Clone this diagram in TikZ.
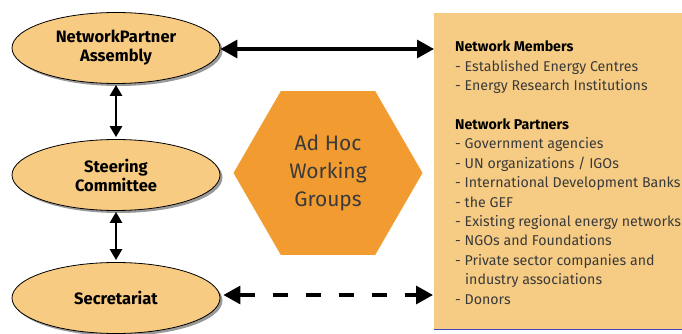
\documentclass[tikz,border=0pt]{standalone}
\usepackage{fontspec}
\setmainfont{Fira Sans}
\usetikzlibrary{shapes.geometric,shadows,arrows.meta}
\definecolor{bodyfill}{HTML}{F7CB82}
\definecolor{hexfill}{HTML}{F29B30}
\definecolor{boxfill}{HTML}{F6CC84}
\definecolor{txtgray}{HTML}{3A3A3A}
\newcommand{\itm}[1]{- #1\\}

\begin{document}
\begin{tikzpicture}[x=1pt,y=-1pt]
                        \tikzstyle{body}=[ellipse, draw=black, line width=0.8pt, fill=bodyfill,
                            minimum width=208pt, minimum height=71pt, align=center,
                            font=\fontsize{16.5}{19}\selectfont\bfseries,
                            drop shadow={shadow xshift=2.5pt, shadow yshift=-2.5pt, fill=gray!80, opacity=1}]
                        \tikzstyle{link}=[line width=2.6pt, {Triangle[length=11pt,width=12pt]}-{Triangle[length=11pt,width=12pt]}]
                        \tikzstyle{wide link}=[line width=3.2pt, {Triangle[length=17pt,width=18pt]}-{Triangle[length=17pt,width=18pt]}]
                        \useasboundingbox (0,0) rectangle (682,334);
                        \node[rectangle, fill=boxfill, minimum width=248pt, minimum height=316pt,
                            anchor=north west, inner sep=0pt] (members) at (434,13) {};
                        \draw[color=blue!45!gray, line width=0.8pt] (members.south west) -- (members.south east);
                        \node[body] (assembly) at (116,48) {NetworkPartner\\Assembly};
                        \node[body] (steering) at (116,175) {Steering\\Committee};
                        \node[body] (secretariat) at (116,298) {Secretariat};
                        \node[regular polygon, regular polygon sides=6, minimum size=189pt, inner sep=0pt,
                            fill=hexfill, text=txtgray, align=center,
                            font=\fontsize{21}{28}\selectfont] (adhoc) at (328,173) {Ad Hoc\\Working\\Groups};
                        \node[anchor=north west, align=left, inner sep=0pt, text=txtgray,
                            font=\fontsize{14.2}{19.4}\selectfont] (list) at (455,41) {
                            {\color{black}\bfseries Network Members}\\
                            \itm{Established Energy Centres}
                            - Energy Research Institutions\\[19.4pt]
                            {\color{black}\bfseries Network Partners}\\
                            \itm{Government agencies}
                            \itm{UN organizations / IGOs}
                            \itm{International Development Banks}
                            \itm{the GEF}
                            \itm{Existing regional energy networks}
                            \itm{NGOs and Foundations}
                            \itm{Private sector companies and}
                            \hspace*{10pt}industry associations\\
                            - Donors};
                        \draw[link, shorten >=2pt, shorten <=1pt] (assembly) -- (steering);
                        \draw[link, shorten >=2pt, shorten <=1pt] (steering) -- (secretariat);
                        \draw[wide link] ([yshift=-1pt]assembly.east) -- ([yshift=-1pt]assembly.east -| members.west);
                        \draw[wide link, shorten <=3pt, shorten >=1pt, dash pattern=on 15pt off 18pt]
                            ([yshift=3pt]secretariat.east) -- ([yshift=3pt]secretariat.east -| members.west);
                    \end{tikzpicture}
\end{document}
